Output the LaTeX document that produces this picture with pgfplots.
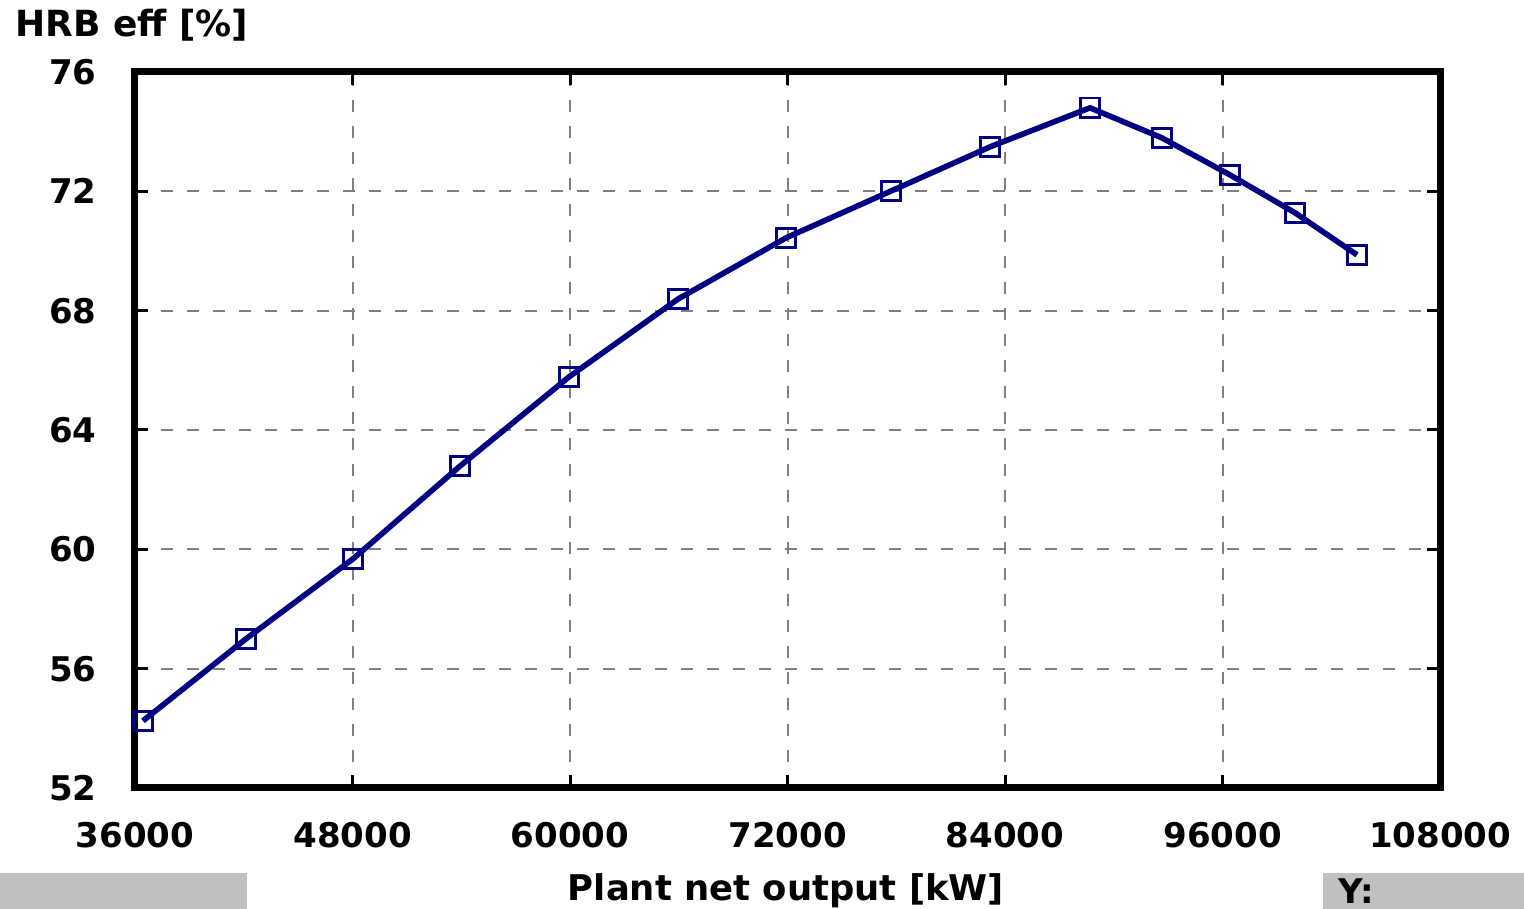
\documentclass[border=0pt]{standalone}
\usepackage{fontspec}
\setmainfont{DejaVu Sans}
\usepackage{pgfplots}
\pgfplotsset{compat=1.18}
\definecolor{navyline}{RGB}{0,0,128}
\definecolor{panelgray}{RGB}{192,192,192}
\begin{document}
\begin{tikzpicture}
\path[use as bounding box] (-67.5pt,-60.5pt) rectangle (694.5pt,394pt);
\begin{axis}[
  at={(0,0)}, anchor=south west,
  scale only axis,
  width=652.5pt, height=358pt,
  xmin=36000, xmax=108000,
  ymin=52, ymax=76,
  xtick={36000,48000,60000,72000,84000,96000,108000},
  xticklabels={36000,48000,60000,72000,84000,96000,108000},
  ytick={52,56,60,64,68,72,76},
  yticklabels={52,56,60,64,68,72,76},
  scaled x ticks=false,
  ticklabel style={font=\fontsize{17}{20}\selectfont\bfseries, inner sep=0pt},
  xticklabel style={anchor=center, yshift=-23.5pt},
  yticklabel style={anchor=east, xshift=-19pt},
  grid=major,
  grid style={gray, dash pattern=on 6pt off 7pt, line width=1pt},
  tick style={black, line width=1.5pt},
  major tick length=6.5pt,
  tick align=inside,
  axis line style={black, line width=3.5pt},
  clip=false,
]
\addplot[navyline, line width=2.8pt, mark=square, mark size=4.8pt,
  mark options={line width=1.3pt, fill=none, solid}]
coordinates {
(36441,54.25)(42124,57.0)(48028,59.68)(53931,62.79)(59945,65.78)(65958,68.39)(71917,70.44)(77710,72.01)(83172,73.49)(88690,74.80)(92662,73.79)(96414,72.55)(100000,71.28)(103421,69.87)
};
\end{axis}
\node[anchor=west, inner sep=0pt, font=\fontsize{18}{21}\selectfont\bfseries] at (-60pt,381.5pt) {HRB eff [\%]};
\fill[panelgray] (-67.5pt,-60.5pt) rectangle (56pt,-42.5pt);
\fill[panelgray] (594pt,-60.5pt) rectangle (694.5pt,-42.5pt);
\node[anchor=center, inner sep=0pt, font=\fontsize{17.7}{21}\selectfont\bfseries] at (325.5pt,-51.5pt) {Plant net output [kW]};
\node[anchor=west, inner sep=0pt, font=\fontsize{17}{20}\selectfont\bfseries] at (601.5pt,-51.5pt) {Y:};
\end{tikzpicture}
\end{document}
